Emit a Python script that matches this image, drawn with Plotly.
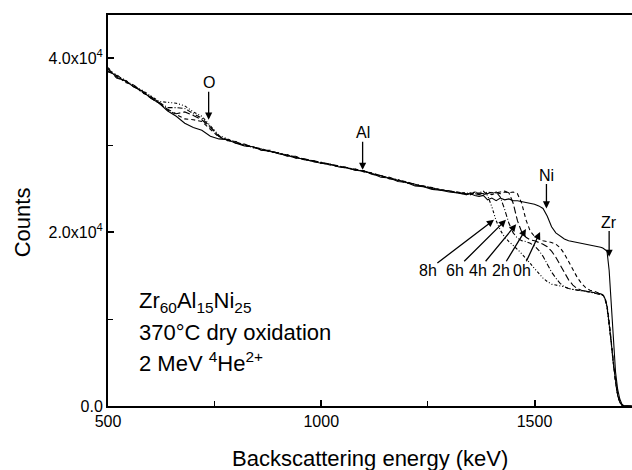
import plotly.graph_objects as go

# ---------------- data ----------------
energy_kev = [
    500, 520, 540, 560, 580, 600, 620, 640, 660, 680,
    700, 720, 740, 760, 780, 800, 820, 840, 860, 880,
    900, 920, 940, 960, 980, 1000, 1020, 1040, 1060, 1080,
    1100, 1120, 1140, 1160, 1180, 1200, 1220, 1240, 1260, 1280,
    1300, 1320,
    1340, 1350, 1360, 1370, 1380, 1390, 1400, 1410, 1420, 1430,
    1440, 1450, 1460, 1470, 1480, 1490, 1500, 1510, 1520, 1530,
    1540, 1550, 1560, 1570, 1580, 1590, 1600, 1610, 1620, 1630,
    1640, 1650,
    1655, 1660, 1665, 1670, 1675, 1680, 1685, 1690, 1695, 1700, 1705, 1710,
    1720, 1730,
]

counts_0h = [
    38700, 37800, 37400, 36700, 36200, 35400, 34800, 33900, 33300, 32500,
    32000, 31700, 31000, 30700, 30600, 30200, 29900, 29800, 29400, 29300,
    29000, 28800, 28500, 28400, 28100, 27900, 27800, 27500, 27400, 27100,
    27000, 26700, 26300, 26200, 25800, 25700, 25300, 25200, 24900, 24800,
    24600, 24500,
    24300, 24400, 24200, 24100, 24200, 23700, 23900, 23600, 23900, 23700,
    23800, 23600, 23600, 23500, 23400, 23300, 23200, 23000, 22700, 21800,
    20600, 19900, 19500, 19200, 19000, 18900, 18800, 18700, 18600, 18550,
    18450, 18300,
    18250, 18150, 18000, 17800, 15600, 11700, 7600, 3900, 1900, 800, 200, 0,
    0, 0,
]

counts_2h = [
    38500, 38000, 37200, 36900, 36000, 35600, 34900, 34000, 33500, 33000,
    32900, 32700, 31800, 30900, 30500, 30400, 29900, 29800, 29400, 29400,
    29000, 28900, 28500, 28400, 28100, 28000, 27700, 27600, 27300, 27250,
    26900, 26800, 26400, 26300, 25900, 25800, 25400, 25300, 25000, 24900,
    24650, 24600,
    24400, 24300, 24500, 24400, 24300, 24400, 24300, 24500, 24400, 24600,
    24500, 24600, 24400, 23300, 21400, 20100, 19500, 19200, 19000, 18900,
    18800, 18600, 18200, 17500, 16600, 15600, 14800, 14100, 13600, 13300,
    13200, 13000,
    12900, 12800, 12500, 11600, 9800, 7400, 4900, 2800, 1300, 500, 100, 0,
    0, 0,
]

counts_4h = [
    38800, 37700, 37400, 36700, 36200, 35400, 34800, 34100, 33600, 33800,
    33400, 32900, 32000, 31000, 30600, 30200, 30100, 29700, 29600, 29200,
    29100, 28700, 28700, 28300, 28200, 27900, 27800, 27500, 27400, 27100,
    27050, 26600, 26500, 26100, 26000, 25600, 25500, 25200, 25100, 24800,
    24750, 24500,
    24300, 24500, 24400, 24300, 24500, 24400, 24600, 24500, 24600, 24700,
    24500, 23300, 21300, 20000, 19400, 19100, 19000, 18800, 18600, 18300,
    17800, 17100, 16200, 15300, 14500, 13900, 13500, 13300, 13200, 13100,
    13000, 12950,
    12900, 12750, 12450, 11500, 9600, 7300, 4800, 2700, 1250, 450, 100, 0,
    0, 0,
]

counts_6h = [
    38400, 38100, 37300, 36900, 36100, 35500, 34900, 34300, 34300, 34200,
    33600, 33100, 32100, 31000, 30600, 30350, 29950, 29800, 29500, 29300,
    29050, 28850, 28600, 28400, 28150, 27950, 27750, 27550, 27350, 27200,
    27000, 26700, 26450, 26200, 25950, 25700, 25450, 25250, 25050, 24850,
    24700, 24550,
    24400, 24300, 24600, 24500, 24400, 24600, 24500, 24600, 24000, 22600,
    21000, 19900, 19300, 19000, 18900, 18700, 18400, 17900, 17200, 16300,
    15400, 14700, 14100, 13700, 13500, 13400, 13300, 13250, 13200, 13100,
    13000, 12900,
    12850, 12750, 12400, 11400, 9500, 7200, 4700, 2700, 1200, 450, 80, 0,
    0, 0,
]

counts_8h = [
    38900, 37900, 37500, 36800, 36300, 35600, 35000, 34900, 34800, 34500,
    33800, 33300, 32200, 31100, 30700, 30300, 30050, 29700, 29550, 29250,
    29100, 28750, 28650, 28300, 28200, 27900, 27800, 27500, 27400, 27150,
    27000, 26650, 26500, 26150, 26000, 25650, 25500, 25200, 25100, 24800,
    24750, 24500,
    24500, 24400, 24600, 24500, 24700, 24200, 22900, 21300, 20200, 19400,
    18900, 18500, 18000, 17500, 17000, 16400, 15800, 15200, 14700, 14300,
    14000, 13900, 13800, 13700, 13500, 13400, 13300, 13250, 13150, 13100,
    13000, 12900,
    12800, 12700, 12350, 11300, 9400, 7200, 4700, 2600, 1200, 400, 80, 0,
    0, 0,
]

series_names = ["0h", "2h", "4h", "6h", "8h"]
series_values = [counts_0h, counts_2h, counts_4h, counts_6h, counts_8h]
series_dash = ["solid", "4px,3px", "7px,3px", "5px,2px,1px,2px", "3px,2px,1px,2px,1px,2px"]

x_tick_vals = [500, 1000, 1500]
y_tick_vals = [0, 20000, 40000]
y_tick_text = ["0.0", "2.0x10<sup>4</sup>", "4.0x10<sup>4</sup>"]

FONT = "Liberation Sans, Arial, Helvetica, sans-serif"

fig = go.Figure()
for name, vals, dash in zip(series_names, series_values, series_dash):
    fig.add_trace(go.Scatter(
        x=energy_kev, y=vals, mode="lines", name=name,
        line=dict(color="black", width=1.1, dash=dash),
        showlegend=False,
    ))

annotations = []

# element arrows: (label, label_x, label_y, tip_x, tip_y)
element_arrows = [
    ("O", 736, 37150, 736, 32900),
    ("Al", 1097, 31400, 1097, 27150),
    ("Ni", 1528, 26550, 1528, 22700),
    ("Zr", 1675, 21150, 1675, 17150),
]
# time arrows: (label, label_x, label_y, tip_x, tip_y)
time_arrows = [
    ("8h", 1250, 15600, 1405, 21400),
    ("6h", 1314, 15600, 1433, 21400),
    ("4h", 1368, 15600, 1457, 20900),
    ("2h", 1421, 15600, 1480, 20350),
    ("0h", 1471, 15600, 1513, 20000),
]
for lab, lx, ly, xh, yh in element_arrows + time_arrows:
    annotations.append(dict(
        x=xh, y=yh, ax=lx, ay=ly, xref="x", yref="y", axref="x", ayref="y",
        text=lab, showarrow=True, arrowhead=2, arrowsize=1.1, arrowwidth=1.3,
        arrowcolor="black", borderpad=0,
        font=dict(family=FONT, size=16, color="black")))

# inset text
inset_lines = [
    ("Zr<sub>60</sub>Al<sub>15</sub>Ni<sub>25</sub>", 11900),
    ("370°C dry oxidation", 8400),
    ("2 MeV <sup>4</sup>He<sup>2+</sup>", 5050),
]
for txt, yy in inset_lines:
    annotations.append(dict(
        x=568, y=yy, xref="x", yref="y", text=txt, showarrow=False,
        font=dict(family=FONT, size=22, color="black"),
        xanchor="left", yanchor="middle"))

# axis titles
annotations.append(dict(
    x=0.5, y=-0.133, xref="paper", yref="paper",
    text="Backscattering energy (keV)", showarrow=False,
    font=dict(family=FONT, size=22, color="black"),
    xanchor="center", yanchor="middle"))
annotations.append(dict(
    x=-0.164, y=0.47, xref="paper", yref="paper",
    text="Counts", showarrow=False, textangle=-90,
    font=dict(family=FONT, size=22, color="black"),
    xanchor="center", yanchor="middle"))

fig.update_layout(
    width=632, height=470,
    margin=dict(l=108, r=0, t=15, b=64),
    paper_bgcolor="white", plot_bgcolor="white",
    annotations=annotations,
    font=dict(family=FONT, color="black"),
    xaxis=dict(
        range=[500, 1728.6], showgrid=False, zeroline=False,
        showline=True, linecolor="black", linewidth=2, mirror=True,
        ticks="inside", ticklen=6, tickwidth=1.5, tickcolor="black",
        tickvals=x_tick_vals, ticktext=[str(v) for v in x_tick_vals],
        tickfont=dict(family=FONT, size=16, color="black"),
        minor=dict(ticks="inside", ticklen=5, tickwidth=1.3, dtick=250, tick0=500,
                   tickcolor="black", showgrid=False),
    ),
    yaxis=dict(
        range=[0, 44943], showgrid=False, zeroline=False,
        showline=True, linecolor="black", linewidth=2, mirror=False,
        ticks="inside", ticklen=6, tickwidth=1.5, tickcolor="black",
        tickvals=y_tick_vals, ticktext=y_tick_text,
        tickfont=dict(family=FONT, size=16, color="black"),
        minor=dict(ticks="inside", ticklen=5, tickwidth=1.3, dtick=10000, tick0=0,
                   tickcolor="black", showgrid=False),
    ),
)

fig.write_html(
    "out.html",
    config={"displayModeBar": False},
    post_script="document.body.style.margin='0';document.body.style.padding='0';",
)
